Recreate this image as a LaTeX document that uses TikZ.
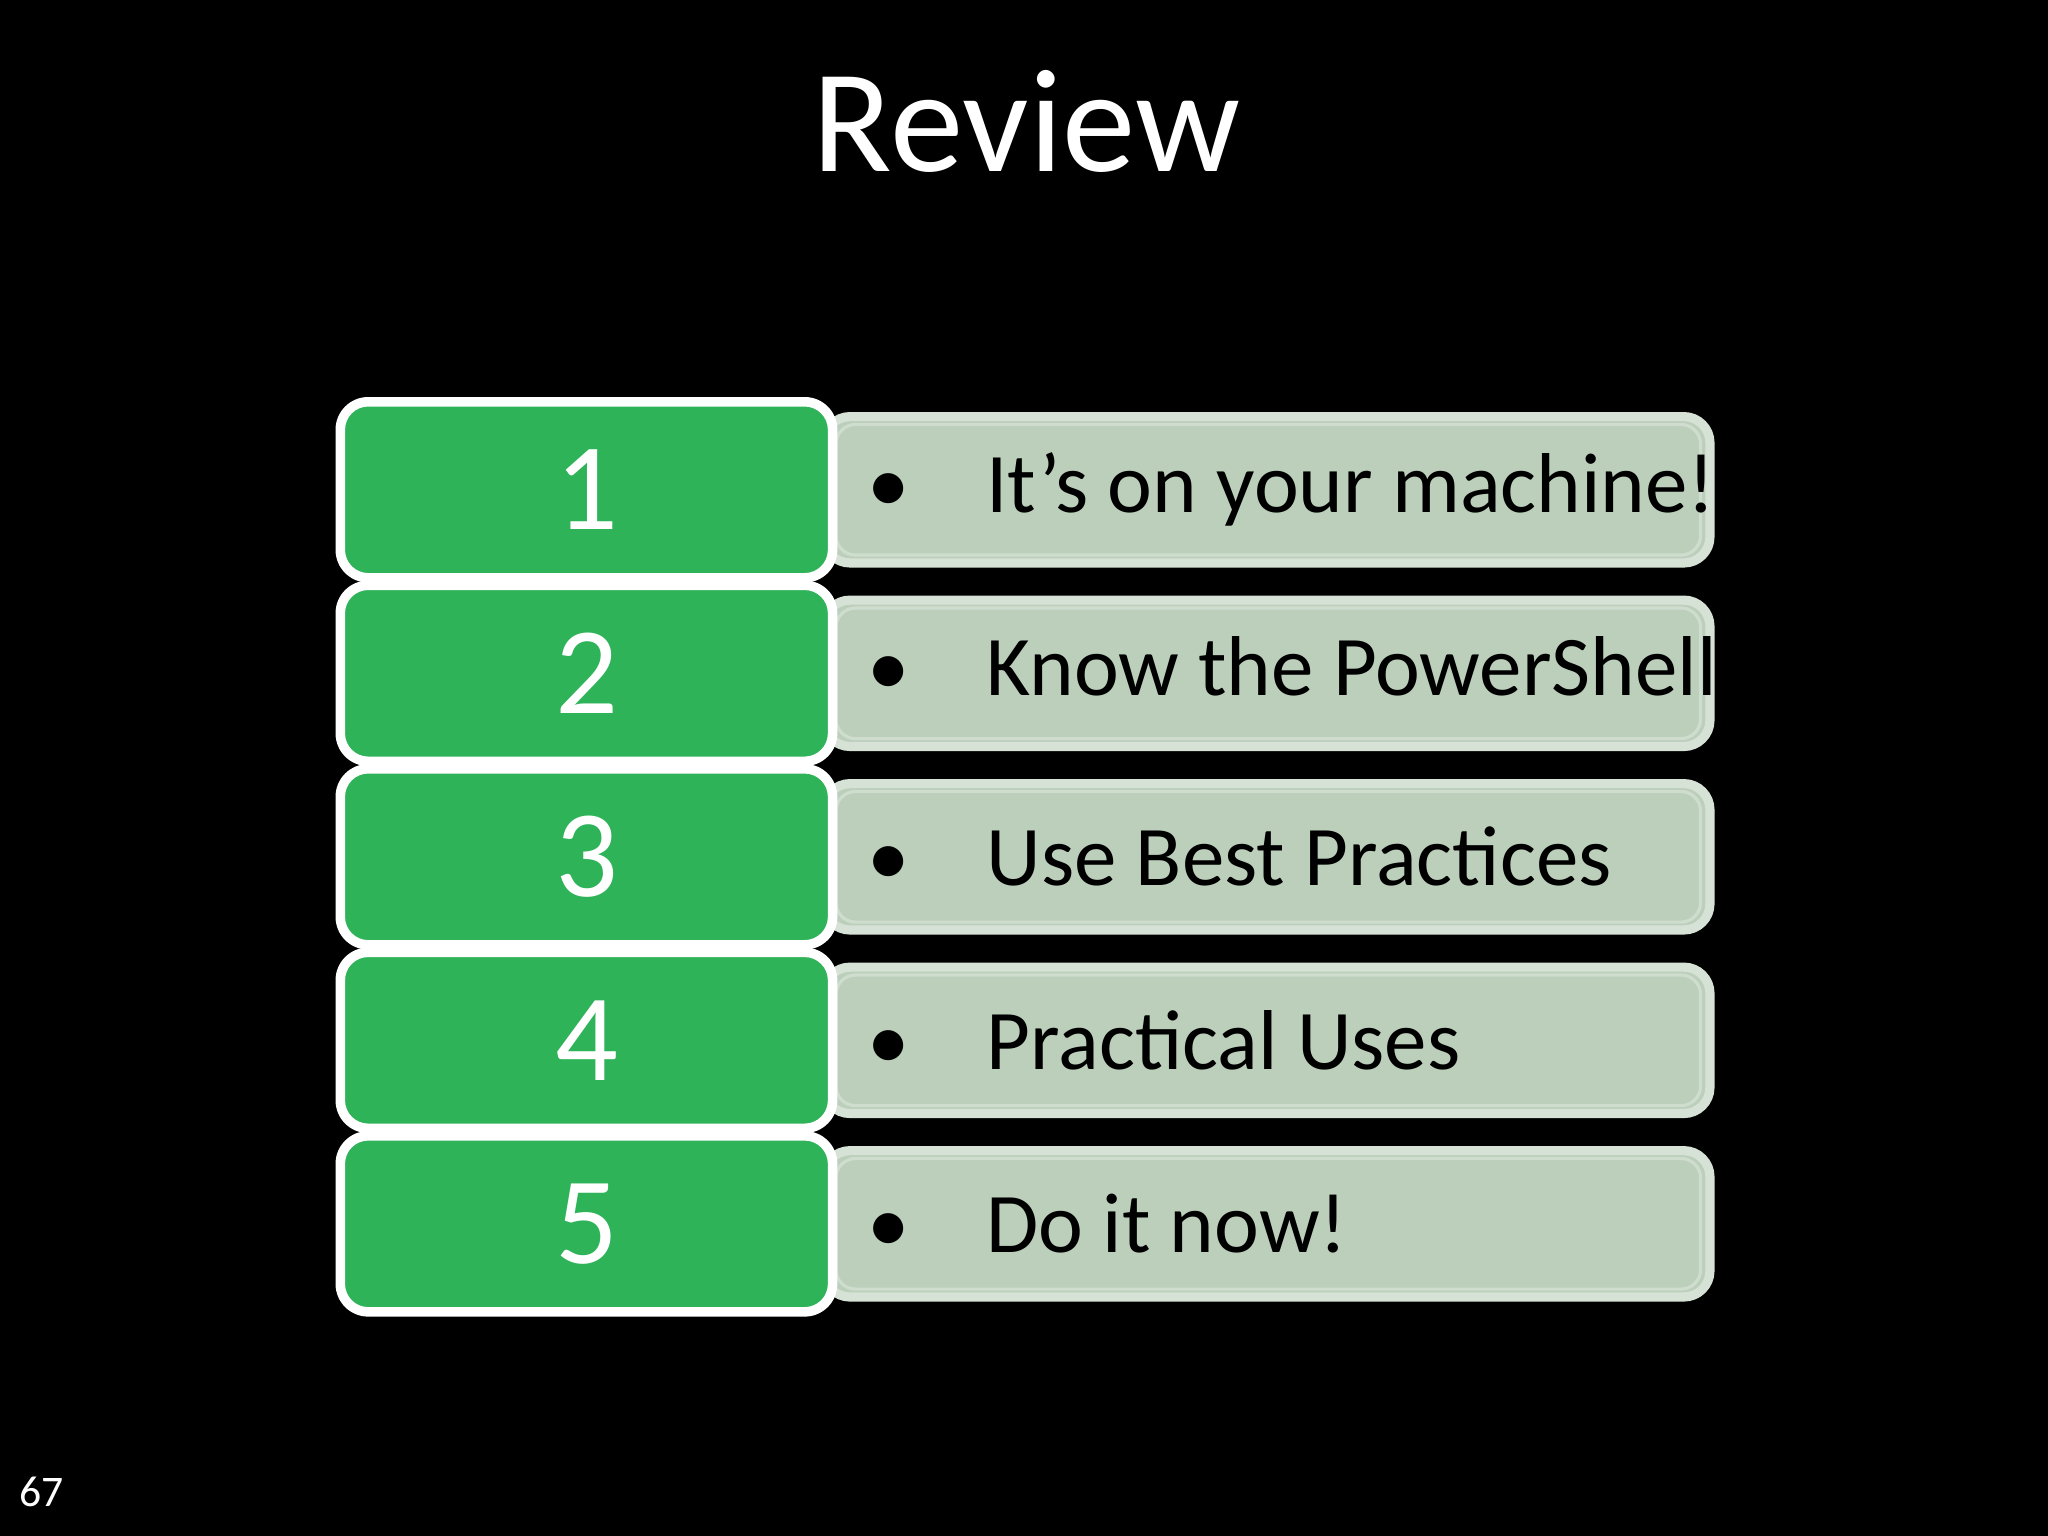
\documentclass[tikz,border=0pt]{standalone}
\usepackage{fontspec}
\setmainfont{Carlito}
\definecolor{grn}{HTML}{2EB359}
\definecolor{gry}{HTML}{BBCFBB}
\definecolor{gryl}{HTML}{CFDDCF}
\begin{document}
\begin{tikzpicture}[x=0.01cm,y=-0.01cm,
  numbox/.style={draw=white,line width=1.3pt,fill=grn,rounded corners=0.2cm,minimum width=3.74cm,minimum height=1.32cm,text=white,font=\fontsize{27}{30}\selectfont,inner sep=0pt},
  txtbox/.style={draw=gryl,line width=0.8pt,fill=gry,rounded corners=0.2cm,minimum width=6.78cm,minimum height=1.12cm,inner sep=0pt},
  txt/.style={anchor=west,font=\fontsize{18.5}{22}\selectfont,text=black}]
\fill[black] (0,0) rectangle (1568,1176);
\node[text=white,font=\fontsize{32}{36}\selectfont] (title) at (786,93) {Review};
\node[text=white,font=\fontsize{9.5}{11}\selectfont] (pg) at (32,1142) {67};
\foreach \i/\t in {1/{It’s on your machine!},2/{Know the PowerShell Syntax},3/{Use Best Practices},4/{Practical Uses},5/{Do it now!}}{
  \pgfmathsetmacro{\yy}{375+140.5*(\i-1)}
  \node[txtbox,fill=gry,draw=gry!60!white,line width=2pt] (t\i) at (970,\yy) {};
  \draw[gryl,line width=0.7pt,rounded corners=0.15cm] (640,\yy-50) rectangle (1302,\yy+50);
  \node[numbox,fill=white,minimum width=3.84cm,minimum height=1.42cm,rounded corners=0.25cm,draw=none] (w\i) at (449,\yy) {};
  \node[numbox] (n\i) at (449,\yy) {\i};
  \node[txt] (l\i) at (652,\yy) {•\hspace{0.9em}\t};
}
\end{tikzpicture}
\end{document}
